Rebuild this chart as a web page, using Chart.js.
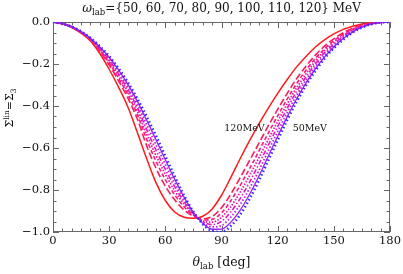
<!DOCTYPE html>
<html>
<head>
<meta charset="utf-8">
<script src="https://cdn.jsdelivr.net/npm/chart.js@4.4.1/dist/chart.umd.min.js"></script>
<style>
  html, body { margin: 0; padding: 0; background: #fff; }
  #wrap { width: 403px; height: 274px; }
</style>
</head>
<body>
<div id="wrap"><canvas id="asym"></canvas></div>
<script>
// scattering angle in the lab frame (deg)
const angles = [0, 5, 10, 15, 20, 25, 30, 35, 40, 45, 50, 55, 60, 65, 70, 75, 80, 85, 90,
  95, 100, 105, 110, 115, 120, 125, 130, 135, 140, 145, 150, 155, 160, 165, 170, 175, 180];

// photon energies (MeV)
const energies = [50, 60, 70, 80, 90, 100, 110, 120];

// Sigma^lin = Sigma_3
const sigma50 = [0, -0.008, -0.022, -0.045, -0.076, -0.116, -0.163, -0.221, -0.288, -0.365, -0.450, -0.542, -0.639, -0.735, -0.826, -0.904, -0.962, -0.995, -1.0,
  -0.971, -0.917, -0.842, -0.754, -0.658, -0.562, -0.468, -0.381, -0.303, -0.234, -0.174, -0.124, -0.083, -0.050, -0.026, -0.010, -0.002, 0];
const sigma60 = [0, -0.008, -0.022, -0.046, -0.077, -0.119, -0.168, -0.228, -0.297, -0.377, -0.467, -0.561, -0.656, -0.749, -0.834, -0.907, -0.959, -0.987, -0.986,
  -0.953, -0.896, -0.820, -0.733, -0.638, -0.544, -0.453, -0.368, -0.292, -0.225, -0.167, -0.119, -0.079, -0.048, -0.025, -0.010, -0.002, 0];
const sigma70 = [0, -0.008, -0.023, -0.046, -0.079, -0.122, -0.174, -0.237, -0.308, -0.391, -0.488, -0.584, -0.678, -0.766, -0.845, -0.910, -0.955, -0.976, -0.969,
  -0.929, -0.869, -0.792, -0.706, -0.613, -0.522, -0.433, -0.351, -0.278, -0.214, -0.158, -0.112, -0.074, -0.045, -0.023, -0.009, -0.002, 0];
const sigma80 = [0, -0.008, -0.023, -0.047, -0.080, -0.126, -0.181, -0.247, -0.321, -0.407, -0.511, -0.610, -0.702, -0.784, -0.856, -0.913, -0.951, -0.965, -0.949,
  -0.904, -0.840, -0.762, -0.676, -0.586, -0.498, -0.412, -0.333, -0.263, -0.201, -0.148, -0.105, -0.069, -0.041, -0.021, -0.008, -0.002, 0];
const sigma90 = [0, -0.008, -0.024, -0.048, -0.082, -0.130, -0.188, -0.257, -0.333, -0.423, -0.534, -0.635, -0.725, -0.803, -0.868, -0.916, -0.947, -0.953, -0.930,
  -0.879, -0.810, -0.731, -0.646, -0.559, -0.473, -0.391, -0.315, -0.248, -0.188, -0.138, -0.097, -0.064, -0.038, -0.019, -0.008, -0.002, 0];
const sigma100 = [0, -0.008, -0.024, -0.049, -0.083, -0.134, -0.195, -0.267, -0.346, -0.440, -0.559, -0.663, -0.751, -0.823, -0.880, -0.920, -0.943, -0.940, -0.909,
  -0.851, -0.778, -0.698, -0.614, -0.529, -0.447, -0.368, -0.295, -0.231, -0.175, -0.128, -0.089, -0.058, -0.034, -0.017, -0.007, -0.0015, 0];
const sigma110 = [0, -0.008, -0.025, -0.050, -0.085, -0.138, -0.204, -0.280, -0.362, -0.461, -0.589, -0.696, -0.782, -0.847, -0.895, -0.925, -0.938, -0.926, -0.885,
  -0.819, -0.741, -0.659, -0.577, -0.494, -0.416, -0.341, -0.271, -0.212, -0.159, -0.115, -0.080, -0.051, -0.030, -0.015, -0.006, -0.0013, 0];
const sigma120 = [0, -0.008, -0.026, -0.053, -0.090, -0.150, -0.225, -0.310, -0.405, -0.525, -0.650, -0.765, -0.850, -0.905, -0.930, -0.935, -0.925, -0.890, -0.825,
  -0.740, -0.650, -0.565, -0.485, -0.410, -0.340, -0.275, -0.215, -0.165, -0.120, -0.085, -0.057, -0.035, -0.020, -0.009, -0.004, -0.001, 0];

const series = [sigma50, sigma60, sigma70, sigma80, sigma90, sigma100, sigma110, sigma120];

// line look per energy, blue (50) to red (120)
const colours = ['#3a2cff', '#9a22f0', '#c81ee0', '#e01cc0', '#f01aa0', '#fa1a80', '#ff1a5a', '#ff1a1a'];
const dashes = [[1.5, 2.5], [], [1.5, 2], [5, 2, 1.5, 2], [1.5, 1.5], [4, 2.5], [7, 3], []];
const widths = [2.6, 1.3, 1.8, 1.6, 1.8, 1.6, 1.6, 1.5];

const serif = '"DejaVu Serif", "Liberation Serif", serif';

// frame, inward ticks, title, axis labels and the two energy notes
const framePlugin = {
  id: 'framePlugin',
  beforeDatasetsDraw(chart) {
    const { ctx, chartArea: a, scales: { x, y } } = chart;
    ctx.save();
    ctx.strokeStyle = '#666';
    ctx.lineWidth = 1;
    ctx.strokeRect(a.left + 0.5, a.top + 0.5, a.right - a.left - 1, a.bottom - a.top - 1);
    ctx.beginPath();
    for (let t = 0; t <= 180; t += 5) {
      const px = Math.round(x.getPixelForValue(t)) + 0.5;
      const len = t % 30 === 0 ? 6 : 3.5;
      ctx.moveTo(px, a.bottom); ctx.lineTo(px, a.bottom - len);
      ctx.moveTo(px, a.top); ctx.lineTo(px, a.top + len);
    }
    for (let k = 0; k <= 20; k++) {
      const py = Math.round(y.getPixelForValue(-k * 0.05)) + 0.5;
      const len = k % 4 === 0 ? 6 : 3.5;
      ctx.moveTo(a.left, py); ctx.lineTo(a.left + len, py);
      ctx.moveTo(a.right, py); ctx.lineTo(a.right - len, py);
    }
    ctx.stroke();
    ctx.restore();
  },
  afterDraw(chart) {
    const { ctx, chartArea: a, scales: { x, y } } = chart;
    ctx.save();
    ctx.fillStyle = '#111';
    ctx.textBaseline = 'alphabetic';

    // title: ω_lab={...} MeV
    const big = '12px ' + serif, small = '8.5px ' + serif, ital = 'italic 12px ' + serif;
    const rest = '={' + energies.join(', ') + '} MeV';
    ctx.font = ital; const w1 = ctx.measureText('ω').width;
    ctx.font = small; const w2 = ctx.measureText('lab').width;
    ctx.font = big; const w3 = ctx.measureText(rest).width;
    let tx = (a.left + a.right) / 2 - (w1 + w2 + w3) / 2;
    const ty = 12;
    ctx.font = ital; ctx.fillText('ω', tx, ty); tx += w1;
    ctx.font = small; ctx.fillText('lab', tx, ty + 2.5); tx += w2;
    ctx.font = big; ctx.fillText(rest, tx, ty);

    // x title: θ_lab [deg]
    const xb = '12.5px ' + serif, xi = 'italic 12.5px ' + serif;
    ctx.font = xi; const v1 = ctx.measureText('θ').width;
    ctx.font = small; const v2 = ctx.measureText('lab').width;
    ctx.font = xb; const v3 = ctx.measureText(' [deg]').width;
    let xx = (a.left + a.right) / 2 - (v1 + v2 + v3) / 2;
    const xy = 266;
    ctx.font = xi; ctx.fillText('θ', xx, xy); xx += v1;
    ctx.font = small; ctx.fillText('lab', xx, xy + 2.5); xx += v2;
    ctx.font = xb; ctx.fillText(' [deg]', xx, xy);

    // y title: Σ^lin = Σ_3
    ctx.translate(13, 108);
    ctx.rotate(-Math.PI / 2);
    const yf = '11px ' + serif, ys = '7.5px ' + serif;
    ctx.font = yf; const s1 = ctx.measureText('Σ').width, s3 = ctx.measureText('=Σ').width;
    ctx.font = ys; const s2 = ctx.measureText('lin').width, s4 = ctx.measureText('3').width;
    let yx = -(s1 + s2 + s3 + s4) / 2;
    ctx.font = yf; ctx.fillText('Σ', yx, 0); yx += s1;
    ctx.font = ys; ctx.fillText('lin', yx, -4); yx += s2;
    ctx.font = yf; ctx.fillText('=Σ', yx, 0); yx += s3;
    ctx.font = ys; ctx.fillText('3', yx, 2.5);
    ctx.setTransform(1, 0, 0, 1, 0, 0);

    // energy notes
    ctx.font = '9.5px ' + serif;
    ctx.fillText(energies[energies.length - 1] + 'MeV', x.getPixelForValue(91.5), y.getPixelForValue(-0.5) + 4);
    ctx.fillText(energies[0] + 'MeV', x.getPixelForValue(128), y.getPixelForValue(-0.5) + 4);
    ctx.restore();
  }
};

const ctx = document.getElementById('asym').getContext('2d');
new Chart(ctx, {
  type: 'line',
  data: {
    datasets: series.map((vals, i) => ({
      label: energies[i] + ' MeV',
      data: angles.map((t, j) => ({ x: t, y: vals[j] })),
      borderColor: colours[i],
      borderDash: dashes[i],
      borderWidth: widths[i],
      pointRadius: 0,
      cubicInterpolationMode: 'monotone',
      fill: false,
    })),
  },
  options: {
    responsive: true,
    maintainAspectRatio: false,
    animation: false,
    layout: { padding: { left: 0, right: 11, top: 22, bottom: 0 } },
    plugins: {
      legend: { display: false },
      title: { display: false },
      tooltip: { enabled: false },
    },
    scales: {
      x: {
        type: 'linear',
        min: 0,
        max: 180,
        grid: { display: false, drawTicks: false },
        border: { display: false },
        ticks: {
          stepSize: 30,
          padding: 2,
          color: '#111',
          maxRotation: 0,
          font: { family: serif, size: 11.5 },
        },
        afterFit(scale) { scale.height = 42; },
      },
      y: {
        min: -1,
        max: 0,
        grid: { display: false, drawTicks: false },
        border: { display: false },
        ticks: {
          stepSize: 0.2,
          padding: 3,
          color: '#111',
          font: { family: serif, size: 11.5 },
          callback: (v) => v.toFixed(1).replace('-', '\u2212').replace('\u22120.0', '0.0'),
        },
        afterFit(scale) { scale.width = 53; },
      },
    },
  },
  plugins: [framePlugin],
});
</script>
</body>
</html>
